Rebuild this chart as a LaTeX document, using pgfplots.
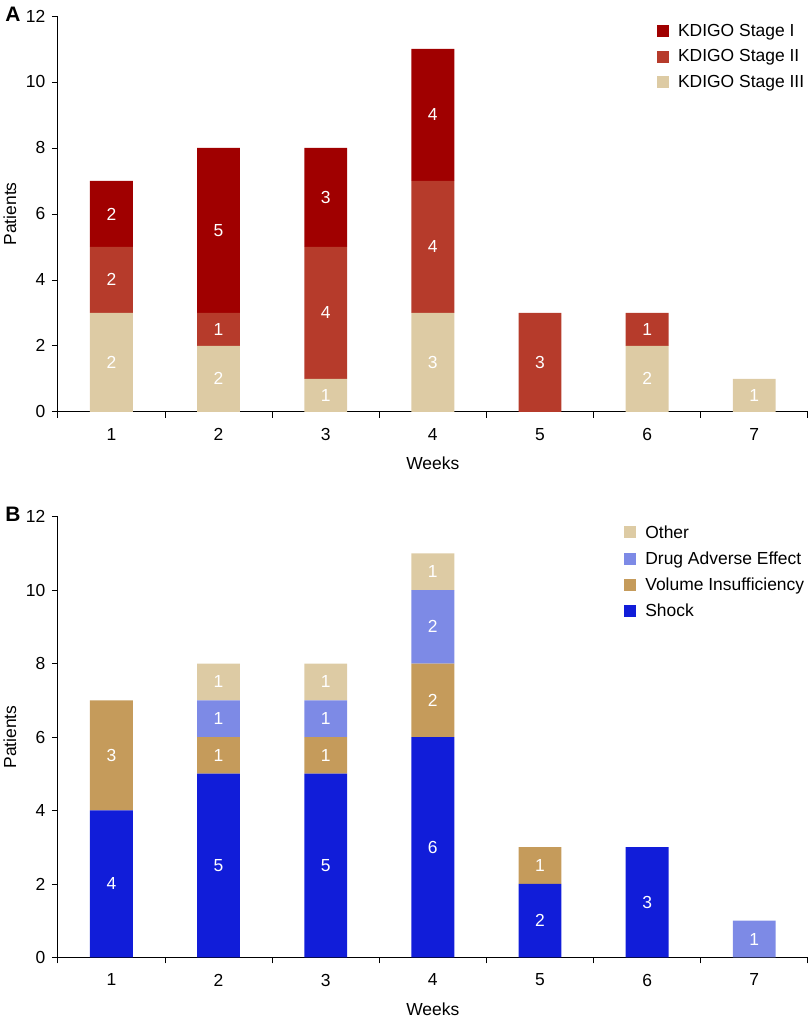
\documentclass[border=0pt]{standalone}
\usepackage{fontspec}
\setmainfont{Liberation Sans}
\usepackage{pgfplots}
\pgfplotsset{compat=1.18}

\definecolor{stageI}{HTML}{A00000}
\definecolor{stageII}{HTML}{B63B2B}
\definecolor{stageIII}{HTML}{DDCBA4}
\definecolor{shock}{HTML}{111DD9}
\definecolor{volume}{HTML}{C59B5B}
\definecolor{drug}{HTML}{7D8AE6}
\definecolor{other}{HTML}{DDCBA4}

\newcommand\lbl{\fontsize{17.5}{21}\selectfont}

\pgfplotsset{
  frame/.style={scale only axis, width=752pt,
    xmin=0.5, xmax=7.5, ymin=0, ymax=12},
  weekbars/.style={frame,
    axis lines*=left, axis line style={black, line width=0.8pt, -},
    ybar stacked, bar width=0.4,
    % tick marks sit between the weeks, labels under the bars
    xtick={0.5,1.5,...,7.5}, xticklabels={},
    extra x ticks={1,2,3,4,5,6,7},
    extra x tick labels={1,2,3,4,5,6,7},
    extra x tick style={major tick length=0pt, xticklabel style={yshift=-7pt}},
    ytick={0,2,...,12},
    tick align=outside, tick style={black, line width=0.8pt},
    major tick length=6pt,
    tick label style={font=\lbl},
    xticklabel style={yshift=-6pt},
    yticklabel style={xshift=-3pt},
    /pgf/number format/assume math mode=true,
    every axis x label/.style={at={(rel axis cs:0.5,0)}, anchor=center, yshift=-52pt, font=\lbl},
    every axis y label/.style={at={(rel axis cs:0,0.5)}, xshift=-48pt, rotate=90, anchor=center, font=\lbl},
    xlabel={Weeks}, ylabel={Patients},
    legend style={draw=none, fill=none, at={(0.998,0.985)}, anchor=north east, font=\lbl,
      row sep=8pt, inner sep=0pt},
    legend cell align=left, reverse legend,
    legend image code/.code={\fill[#1] (0pt,-6pt) rectangle (12pt,6pt); \path (19pt,0pt);},
    clip=false,
  },
  seg/.style={fill=#1, draw=none},
  lbls/.style={frame, hide axis, clip=false},
  vals/.style={draw=none, mark=none, point meta=explicit symbolic, nodes near coords,
    nodes near coords style={anchor=center, text=white, font=\lbl, inner sep=0pt}},
}

\begin{document}
\begin{tikzpicture}
% page margins as in the original figure
\path (-58pt,413pt) (752pt,-606pt);
% panel A: KDIGO stage
\begin{axis}[weekbars, height=397pt, at={(0pt,0pt)}]
\addplot[seg=stageIII] coordinates {(1,3) (2,2) (3,1) (4,3) (5,0) (6,2) (7,1)};
\addlegendentry{KDIGO Stage III}
\addplot[seg=stageII] coordinates {(1,2) (2,1) (3,4) (4,4) (5,3) (6,1) (7,0)};
\addlegendentry{KDIGO Stage II}
\addplot[seg=stageI] coordinates {(1,2) (2,5) (3,3) (4,4) (5,0) (6,0) (7,0)};
\addlegendentry{KDIGO Stage I}
\node[font=\bfseries\fontsize{21}{21}\selectfont, anchor=base west] at (rel axis cs:-0.0745,0.985) {A};
\end{axis}
\begin{axis}[lbls, height=397pt, at={(0pt,0pt)}]
\addplot[vals] coordinates {
  (1,1.5) [2] (2,1) [2] (3,0.5) [1] (4,1.5) [3] (6,1) [2] (7,0.5) [1]
  (1,4) [2] (2,2.5) [1] (3,3) [4] (4,5) [4] (5,1.5) [3] (6,2.5) [1]
  (1,6) [2] (2,5.5) [5] (3,6.5) [3] (4,9) [4]};
\end{axis}

% panel B: cause
\begin{axis}[weekbars, height=442pt, at={(0pt,-547pt)}]
\addplot[seg=shock] coordinates {(1,4) (2,5) (3,5) (4,6) (5,2) (6,3) (7,0)};
\addlegendentry{Shock}
\addplot[seg=volume] coordinates {(1,3) (2,1) (3,1) (4,2) (5,1) (6,0) (7,0)};
\addlegendentry{Volume Insufficiency}
\addplot[seg=drug] coordinates {(1,0) (2,1) (3,1) (4,2) (5,0) (6,0) (7,1)};
\addlegendentry{Drug Adverse Effect}
\addplot[seg=other] coordinates {(1,0) (2,1) (3,1) (4,1) (5,0) (6,0) (7,0)};
\addlegendentry{Other}
\node[font=\bfseries\fontsize{21}{21}\selectfont, anchor=base west] at (rel axis cs:-0.0745,0.989) {B};
\end{axis}
\begin{axis}[lbls, height=442pt, at={(0pt,-547pt)}]
\addplot[vals] coordinates {
  (1,2) [4] (2,2.5) [5] (3,2.5) [5] (4,3) [6] (5,1) [2] (6,1.5) [3]
  (1,5.5) [3] (2,5.5) [1] (3,5.5) [1] (4,7) [2] (5,2.5) [1]
  (2,6.5) [1] (3,6.5) [1] (4,9) [2] (7,0.5) [1]
  (2,7.5) [1] (3,7.5) [1] (4,10.5) [1]};
\end{axis}
\end{tikzpicture}
\end{document}
